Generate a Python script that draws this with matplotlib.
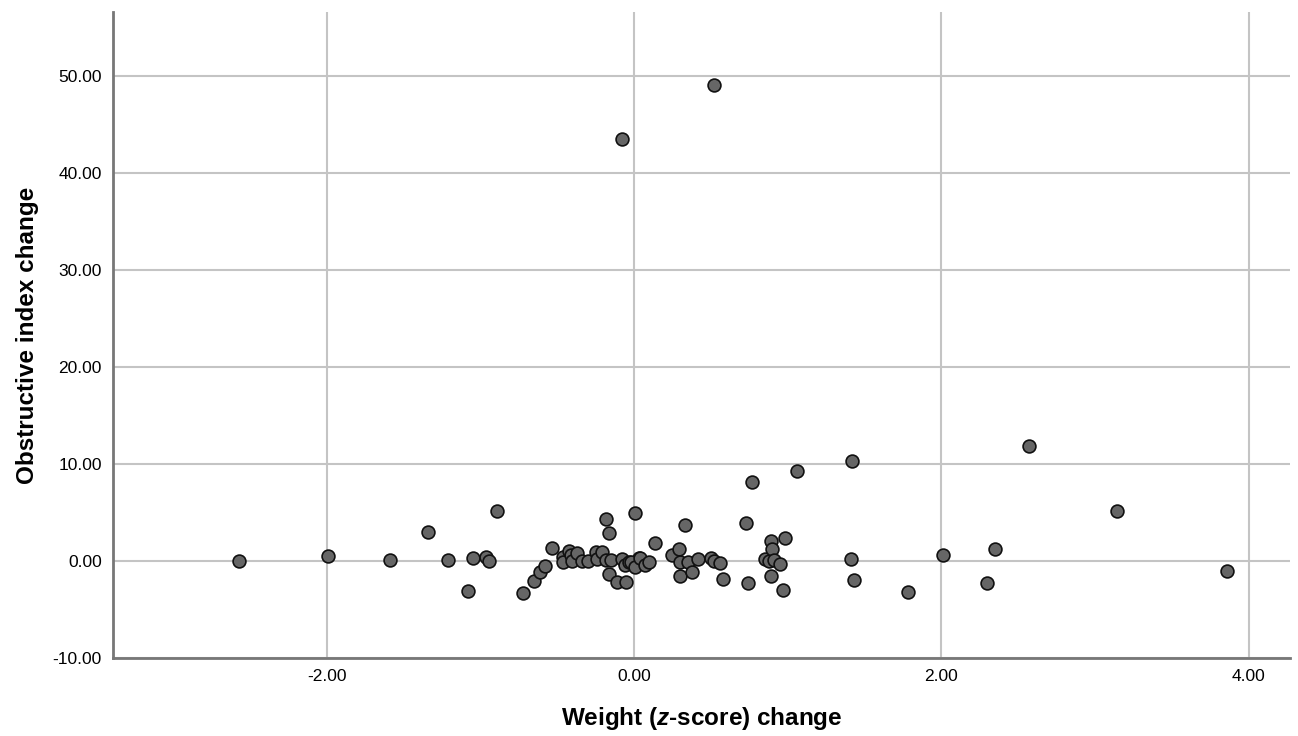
import matplotlib.pyplot as plt

plt.rcParams['font.family'] = ['Liberation Sans', 'DejaVu Sans']
plt.rcParams['mathtext.fontset'] = 'custom'
plt.rcParams['mathtext.bfit'] = 'Liberation Sans:bold:italic'

# weight z-score change vs obstructive index change
weight_change = [
    -2.57, -1.99, -1.59, -1.34, -1.21, -1.08, -1.05, -0.96, -0.94, -0.89,
    -0.72, -0.65, -0.61, -0.58, -0.53,
    -0.46, -0.46, -0.42, -0.41, -0.40, -0.37, -0.34, -0.30, -0.25, -0.24,
    -0.21, -0.18, -0.15, -0.08, -0.06, -0.03, 0.01, 0.03,
    -0.18, -0.16, -0.16, -0.11, -0.05, 0.01,
    -0.02, 0.01, 0.04, 0.07, 0.10, 0.14, 0.25, 0.29, 0.30, 0.30,
    0.33, 0.35, 0.38, 0.42, 0.50, 0.52, 0.56, 0.58,
    0.73, 0.74, 0.77, 0.85, 0.88, 0.89, 0.90, 0.89, 0.91, 0.95, 0.97, 0.98, 1.06,
    1.42, 1.41, 1.43, 1.78, 2.01, 2.35, 2.30, 2.57, 3.14, 3.86,
    -0.08, 0.52,
]
obstructive_change = [
    0.0, 0.5, 0.07, 3.0, 0.07, -3.06, 0.34, 0.44, -0.03, 5.19,
    -3.33, -2.06, -1.1, -0.55, 1.31,
    0.44, -0.07, 1.06, 0.62, 0.0, 0.79, 0.03, 0.0, 0.96, 0.18,
    0.96, 0.1, 0.1, 0.2, -0.4, -0.07, -0.5, 0.28,
    4.33, 2.92, -1.37, -2.2, -2.2, 4.91,
    -0.07, -0.58, 0.28, -0.41, -0.07, 1.82, 0.62, 1.2, -0.07, -1.51,
    3.75, -0.14, -1.1, 0.24, 0.34, 0.0, -0.24, -1.89,
    3.95, -2.23, 8.11, 0.18, 0.0, 2.1, 1.2, -1.51, 0.1, -0.31, -2.99, 2.34, 9.28,
    10.34, 0.2, -1.96, -3.23, 0.62, 1.24, -2.3, 11.86, 5.15, -1.03,
    43.5, 49.1,
]
xticks = [-2, 0, 2, 4]
yticks = [-10, 0, 10, 20, 30, 40, 50]

fig = plt.figure(figsize=(12.98, 7.36), dpi=100)
ax = fig.add_axes([0.087, 0.106, 0.907, 0.878])

ax.scatter(weight_change, obstructive_change, s=85, c='#666666',
           edgecolors='#111111', linewidths=1.2, zorder=3)

ax.set_xlim(-3.39, 4.27)
ax.set_ylim(-10, 56.6)
ax.set_xticks(xticks)
ax.set_yticks(yticks)
ax.set_xticklabels(['%.2f' % v for v in xticks], fontsize=12.5)
ax.set_yticklabels(['%.2f' % v for v in yticks], fontsize=12.5)
ax.tick_params(length=0, pad=8)
ax.grid(True, color='#c4c4c4', linewidth=1.5, zorder=0)
ax.set_axisbelow(True)

for side in ['top', 'right']:
    ax.spines[side].set_visible(False)
for side in ['left', 'bottom']:
    ax.spines[side].set_color('#777777')
    ax.spines[side].set_linewidth(2)

ax.set_xlabel(r'Weight ($\bfit{z}$-score) change', fontsize=17.5, fontweight='bold', labelpad=15)
ax.set_ylabel('Obstructive index change', fontsize=17.5, fontweight='bold', labelpad=10)

fig.savefig('out.png', dpi=100)
